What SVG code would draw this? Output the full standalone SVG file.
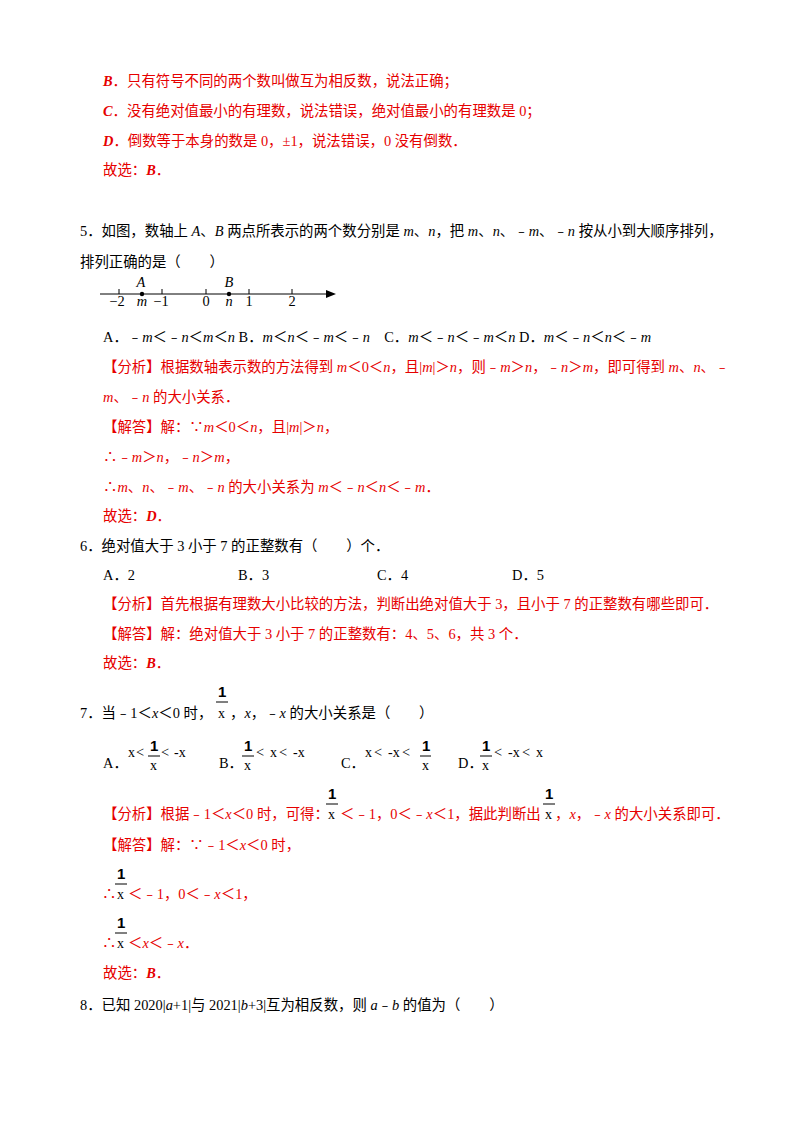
<svg xmlns="http://www.w3.org/2000/svg" width="800" height="1132" viewBox="0 0 800 1132">
<style>
text{font-family:"Liberation Serif","Noto Sans CJK SC",serif;font-size:14.4px;fill:#000}
.r{fill:#e60000}
.i{font-style:italic}
.b{font-weight:bold}
.f{font-family:"Liberation Serif",serif;font-size:14px}
.fb{font-family:"Liberation Sans",sans-serif;font-size:15px;font-weight:bold}
line{stroke:#000;stroke-width:1}
</style>
<rect width="800" height="1132" fill="#fff"/>
<text x="103" y="86" class="r"><tspan class="i b">B</tspan>．只有符号不同的两个数叫做互为相反数，说法正确；</text>
<text x="103" y="116" class="r"><tspan class="i b">C</tspan>．没有绝对值最小的有理数，说法错误，绝对值最小的有理数是 0；</text>
<text x="103" y="146" class="r"><tspan class="i b">D</tspan>．倒数等于本身的数是 0，±1，说法错误，0 没有倒数．</text>
<text x="103" y="175" class="r">故选：<tspan class="i b">B</tspan>．</text>
<text x="80" y="236">5．如图，数轴上 <tspan class="i">A</tspan>、<tspan class="i">B</tspan> 两点所表示的两个数分别是 <tspan class="i">m</tspan>、<tspan class="i">n</tspan>，把 <tspan class="i">m</tspan>、<tspan class="i">n</tspan>、﹣<tspan class="i">m</tspan>、﹣<tspan class="i">n</tspan> 按从小到大顺序排列，</text>
<text x="80" y="267">排列正确的是（　　）</text>
<g id="numberline">
<line x1="100" y1="294" x2="330" y2="294"/>
<path d="M336 294 L326 290 L326 298 Z" fill="#000"/>
<g stroke="#000"><line x1="119" y1="289" x2="119" y2="294"/><line x1="162" y1="289" x2="162" y2="294"/><line x1="206" y1="289" x2="206" y2="294"/><line x1="249" y1="289" x2="249" y2="294"/><line x1="292" y1="289" x2="292" y2="294"/></g>
<circle cx="142" cy="294" r="2.2"/><circle cx="229" cy="294" r="2.2"/>
<text x="141" y="287" class="i" text-anchor="middle" font-size="12">A</text>
<text x="229" y="287" class="i" text-anchor="middle" font-size="12">B</text>
<text x="117" y="306" text-anchor="middle" font-size="12">−2</text><text x="142" y="306" text-anchor="middle" class="i" font-size="12">m</text><text x="161" y="306" text-anchor="middle" font-size="12">−1</text><text x="206" y="306" text-anchor="middle" font-size="12">0</text><text x="229" y="306" text-anchor="middle" class="i" font-size="12">n</text><text x="249" y="306" text-anchor="middle" font-size="12">1</text><text x="292" y="306" text-anchor="middle" font-size="12">2</text>
</g>
<text x="103" y="342">A．﹣<tspan class="i">m</tspan>＜﹣<tspan class="i">n</tspan>＜<tspan class="i">m</tspan>＜<tspan class="i">n</tspan> B．<tspan class="i">m</tspan>＜<tspan class="i">n</tspan>＜﹣<tspan class="i">m</tspan>＜﹣<tspan class="i">n</tspan>　C．<tspan class="i">m</tspan>＜﹣<tspan class="i">n</tspan>＜﹣<tspan class="i">m</tspan>＜<tspan class="i">n</tspan> D．<tspan class="i">m</tspan>＜﹣<tspan class="i">n</tspan>＜<tspan class="i">n</tspan>＜﹣<tspan class="i">m</tspan></text>
<text x="103" y="372" class="r">【分析】根据数轴表示数的方法得到 <tspan class="i">m</tspan>＜0＜<tspan class="i">n</tspan>，且|<tspan class="i">m</tspan>|＞<tspan class="i">n</tspan>，则﹣<tspan class="i">m</tspan>＞<tspan class="i">n</tspan>，﹣<tspan class="i">n</tspan>＞<tspan class="i">m</tspan>，即可得到 <tspan class="i">m</tspan>、<tspan class="i">n</tspan>、﹣</text>
<text x="103" y="402" class="r"><tspan class="i">m</tspan>、﹣<tspan class="i">n</tspan> 的大小关系．</text>
<text x="103" y="432" class="r">【解答】解：∵<tspan class="i">m</tspan>＜0＜<tspan class="i">n</tspan>，且|<tspan class="i">m</tspan>|＞<tspan class="i">n</tspan>，</text>
<text x="103" y="462" class="r">∴﹣<tspan class="i">m</tspan>＞<tspan class="i">n</tspan>，﹣<tspan class="i">n</tspan>＞<tspan class="i">m</tspan>，</text>
<text x="103" y="492" class="r">∴<tspan class="i">m</tspan>、<tspan class="i">n</tspan>、﹣<tspan class="i">m</tspan>、﹣<tspan class="i">n</tspan> 的大小关系为 <tspan class="i">m</tspan>＜﹣<tspan class="i">n</tspan>＜<tspan class="i">n</tspan>＜﹣<tspan class="i">m</tspan>．</text>
<text x="103" y="521" class="r">故选：<tspan class="i b">D</tspan>．</text>
<text x="80" y="551">6．绝对值大于 3 小于 7 的正整数有（　　）个．</text>
<text x="103" y="580">A．2</text><text x="238" y="580">B．3</text><text x="377" y="580">C．4</text><text x="512" y="580">D．5</text>
<text x="103" y="609" class="r">【分析】首先根据有理数大小比较的方法，判断出绝对值大于 3，且小于 7 的正整数有哪些即可．</text>
<text x="103" y="639" class="r">【解答】解：绝对值大于 3 小于 7 的正整数有：4、5、6，共 3 个．</text>
<text x="103" y="668" class="r">故选：<tspan class="i b">B</tspan>．</text>
<text x="80" y="718">7．当﹣1＜<tspan class="i">x</tspan>＜0 时，</text>
<text x="218" y="697" class="fb">1</text><line x1="216" y1="702" x2="228" y2="702" stroke-width="1.3"/><text x="218" y="718" class="f">x</text>
<text x="230" y="718">，<tspan class="i">x</tspan>，﹣<tspan class="i">x</tspan> 的大小关系是（　　）</text>
<text x="103" y="768">A．</text>
<text x="128" y="757" class="f">x</text><text x="136" y="757" font-size="20">&lt;</text>
<text x="150" y="751" class="fb">1</text><line x1="148" y1="756" x2="160" y2="756" stroke-width="1.3"/><text x="150" y="770" class="f">x</text>
<text x="161" y="757" font-size="20">&lt;</text><text x="174" y="757" class="f">-x</text>
<text x="219" y="768">B．</text>
<text x="244" y="751" class="fb">1</text><line x1="242" y1="756" x2="254" y2="756" stroke-width="1.3"/><text x="244" y="770" class="f">x</text>
<text x="256" y="757" font-size="20">&lt;</text><text x="270" y="757" class="f">x</text><text x="279" y="757" font-size="20">&lt;</text><text x="293" y="757" class="f">-x</text>
<text x="341" y="768">C．</text>
<text x="365" y="757" class="f">x</text><text x="374" y="757" font-size="20">&lt;</text><text x="388" y="757" class="f">-x</text><text x="402" y="757" font-size="20">&lt;</text>
<text x="422" y="751" class="fb">1</text><line x1="420" y1="756" x2="431" y2="756" stroke-width="1.3"/><text x="422" y="770" class="f">x</text>
<text x="458" y="768">D．</text>
<text x="482" y="751" class="fb">1</text><line x1="480" y1="756" x2="492" y2="756" stroke-width="1.3"/><text x="482" y="770" class="f">x</text>
<text x="494" y="757" font-size="20">&lt;</text><text x="508" y="757" class="f">-x</text><text x="522" y="757" font-size="20">&lt;</text><text x="536" y="757" class="f">x</text>
<text x="103" y="819" class="r">【分析】根据﹣1＜<tspan class="i">x</tspan>＜0 时，可得：</text>
<text x="328" y="799" class="fb">1</text><line x1="326" y1="804" x2="338" y2="804" stroke-width="1.3"/><text x="328" y="819" class="f">x</text>
<text x="340" y="819" class="r">＜﹣1，0＜﹣<tspan class="i">x</tspan>＜1，据此判断出</text>
<text x="545" y="799" class="fb">1</text><line x1="543" y1="804" x2="555" y2="804" stroke-width="1.3"/><text x="545" y="819" class="f">x</text>
<text x="555" y="819" class="r">，<tspan class="i">x</tspan>，﹣<tspan class="i">x</tspan> 的大小关系即可．</text>
<text x="103" y="850" class="r">【解答】解：∵﹣1＜<tspan class="i">x</tspan>＜0 时，</text>
<text x="102" y="899" class="r">∴</text>
<text x="117" y="879" class="fb">1</text><line x1="115" y1="884" x2="127" y2="884" stroke-width="1.3"/><text x="117" y="899" class="f">x</text>
<text x="128" y="899" class="r">＜﹣1，0＜﹣<tspan class="i">x</tspan>＜1，</text>
<text x="102" y="948" class="r">∴</text>
<text x="117" y="928" class="fb">1</text><line x1="115" y1="933" x2="127" y2="933" stroke-width="1.3"/><text x="117" y="948" class="f">x</text>
<text x="128" y="948" class="r">＜<tspan class="i">x</tspan>＜﹣<tspan class="i">x</tspan>．</text>
<text x="103" y="978" class="r">故选：<tspan class="i b">B</tspan>．</text>
<text x="80" y="1010">8．已知 2020|<tspan class="i">a</tspan>+1|与 2021|<tspan class="i">b</tspan>+3|互为相反数，则 <tspan class="i">a</tspan>﹣<tspan class="i">b</tspan> 的值为（　　）</text>
</svg>
